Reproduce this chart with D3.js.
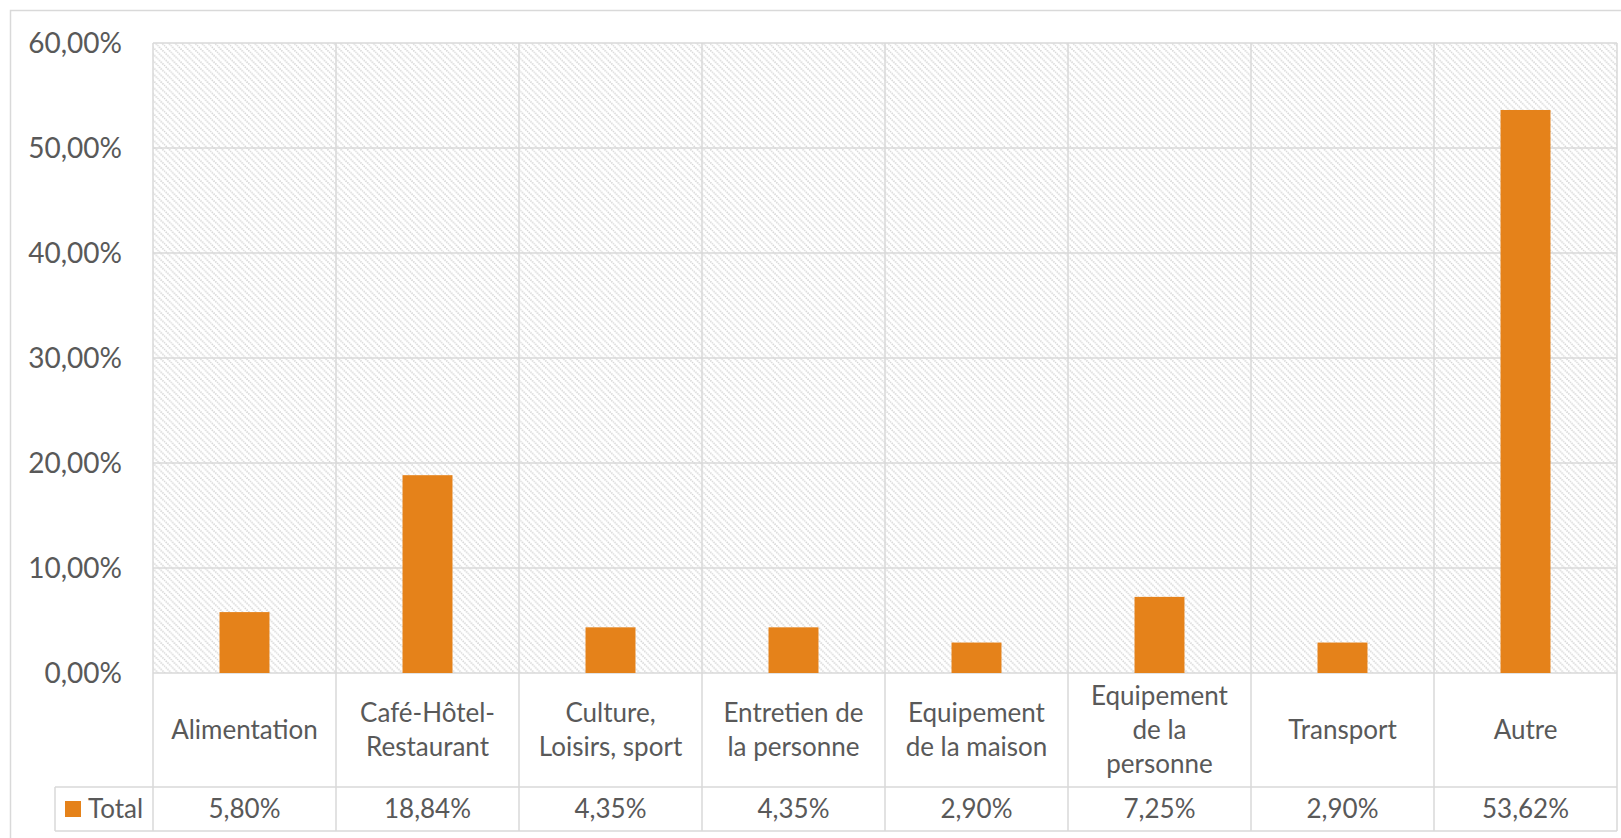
<!DOCTYPE html>
<html>
<head>
<meta charset="utf-8">
<script src="https://cdn.jsdelivr.net/npm/d3@7"></script>
<style>
  body { margin: 0; background: #fff; }
  text { font-family: Lato, "Open Sans", sans-serif; fill: #595959; }
</style>
</head>
<body>
<script>
// categories (with manual line breaks as in the source table)
var categories = ["Alimentation", "Café-Hôtel-Restaurant", "Culture, Loisirs, sport",
	"Entretien de la personne", "Equipement de la maison", "Equipement de la personne",
	"Transport", "Autre"];
var catLines = [["Alimentation"], ["Café-Hôtel-", "Restaurant"], ["Culture,", "Loisirs, sport"],
	["Entretien de", "la personne"], ["Equipement", "de la maison"], ["Equipement", "de la", "personne"],
	["Transport"], ["Autre"]];
var totals = [5.80, 18.84, 4.35, 4.35, 2.90, 7.25, 2.90, 53.62];
var yTicks = [0, 10, 20, 30, 40, 50, 60];
var seriesName = "Total";

var W = 1621, H = 838,
	margin = {top: 43, left: 153, right: 4},
	plotBottom = 673,
	catRowBottom = 787,
	valRowBottom = 831,
	legendLeft = 55,
	gridColor = "#d9d9d9",
	barColor = "#E5821A";

var svg = d3.select("body").append("svg")
	.attr("width", W)
	.attr("height", H);

// hatch pattern for plot background
var defs = svg.append("defs");
var pat = defs.append("pattern")
	.attr("id", "hatch")
	.attr("patternUnits", "userSpaceOnUse")
	.attr("width", 6.6)
	.attr("height", 6.6);
pat.append("path")
	.attr("d", "M-1,-1 L7.6,7.6 M-1,5.6 L1,7.6 M5.6,-1 L7.6,1")
	.attr("stroke", "#d2d2d2")
	.attr("stroke-width", 1.6)
	.attr("stroke-dasharray", "1.4,1");

// outer chart border
svg.append("rect")
	.attr("x", 10.5).attr("y", 10.5)
	.attr("width", W).attr("height", H)
	.attr("fill", "none")
	.attr("stroke", gridColor)
	.attr("stroke-width", 1.5);

var x = d3.scaleBand()
	.domain(categories)
	.range([margin.left, W - margin.right]);
var y = d3.scaleLinear()
	.domain([0, 60])
	.range([plotBottom, margin.top]);

// plot area
svg.append("rect")
	.attr("x", margin.left).attr("y", margin.top)
	.attr("width", W - margin.right - margin.left)
	.attr("height", plotBottom - margin.top)
	.attr("fill", "url(#hatch)");

// horizontal gridlines
svg.append("g").selectAll("line")
	.data(yTicks).enter()
	.append("line")
	.attr("x1", margin.left).attr("x2", W - margin.right)
	.attr("y1", function(d) { return y(d); })
	.attr("y2", function(d) { return y(d); })
	.attr("stroke", gridColor)
	.attr("stroke-width", 1.5);

// vertical lines: column boundaries through plot and table
var bounds = categories.map(function(c) { return x(c); }).concat([W - margin.right]);
svg.append("g").selectAll("line")
	.data(bounds).enter()
	.append("line")
	.attr("x1", function(d) { return d; })
	.attr("x2", function(d) { return d; })
	.attr("y1", margin.top)
	.attr("y2", valRowBottom)
	.attr("stroke", gridColor)
	.attr("stroke-width", 1.5);

// table horizontal lines + legend cell
svg.append("g").selectAll("line")
	.data([catRowBottom, valRowBottom]).enter()
	.append("line")
	.attr("x1", legendLeft).attr("x2", W - margin.right)
	.attr("y1", function(d) { return d; })
	.attr("y2", function(d) { return d; })
	.attr("stroke", gridColor)
	.attr("stroke-width", 1.5);
svg.append("line")
	.attr("x1", legendLeft).attr("x2", legendLeft)
	.attr("y1", catRowBottom).attr("y2", valRowBottom)
	.attr("stroke", gridColor)
	.attr("stroke-width", 1.5);

// y axis labels
svg.append("g").selectAll("text")
	.data(yTicks).enter()
	.append("text")
	.attr("x", 122)
	.attr("y", function(d) { return y(d); })
	.attr("dy", "0.35em")
	.attr("text-anchor", "end")
	.style("font-size", "28px")
	.text(function(d) { return d3.format(".2f")(d).replace(".", ",") + "%"; });

// bars
var barW = x.bandwidth() * 0.273;
svg.append("g").selectAll("rect")
	.data(totals).enter()
	.append("rect")
	.attr("x", function(d, i) { return x(categories[i]) + x.bandwidth() / 2 - barW / 2; })
	.attr("y", function(d) { return y(d); })
	.attr("width", barW)
	.attr("height", function(d) { return plotBottom - y(d); })
	.attr("fill", barColor);

// category labels (table header row)
var lh = 34;
var catG = svg.append("g").selectAll("text")
	.data(catLines).enter()
	.append("text")
	.attr("text-anchor", "middle")
	.style("font-size", "26px")
	.attr("transform", function(d, i) {
		var cy = (plotBottom + catRowBottom) / 2 - (d.length - 1) * lh / 2;
		return "translate(" + (x(categories[i]) + x.bandwidth() / 2) + "," + cy + ")";
	});
catG.selectAll("tspan")
	.data(function(d) { return d; }).enter()
	.append("tspan")
	.attr("x", 0)
	.attr("y", function(d, i) { return i * lh; })
	.attr("dy", "0.35em")
	.text(function(d) { return d; });

// value row
svg.append("g").selectAll("text")
	.data(totals).enter()
	.append("text")
	.attr("x", function(d, i) { return x(categories[i]) + x.bandwidth() / 2; })
	.attr("y", (catRowBottom + valRowBottom) / 2)
	.attr("dy", "0.35em")
	.attr("text-anchor", "middle")
	.style("font-size", "26px")
	.text(function(d) { return d3.format(".2f")(d).replace(".", ",") + "%"; });

// legend key in table
svg.append("rect")
	.attr("x", 65).attr("y", 801)
	.attr("width", 16).attr("height", 16)
	.attr("fill", barColor);
svg.append("text")
	.attr("x", 88)
	.attr("y", (catRowBottom + valRowBottom) / 2)
	.attr("dy", "0.35em")
	.style("font-size", "26px")
	.text(seriesName);
</script>
</body>
</html>
